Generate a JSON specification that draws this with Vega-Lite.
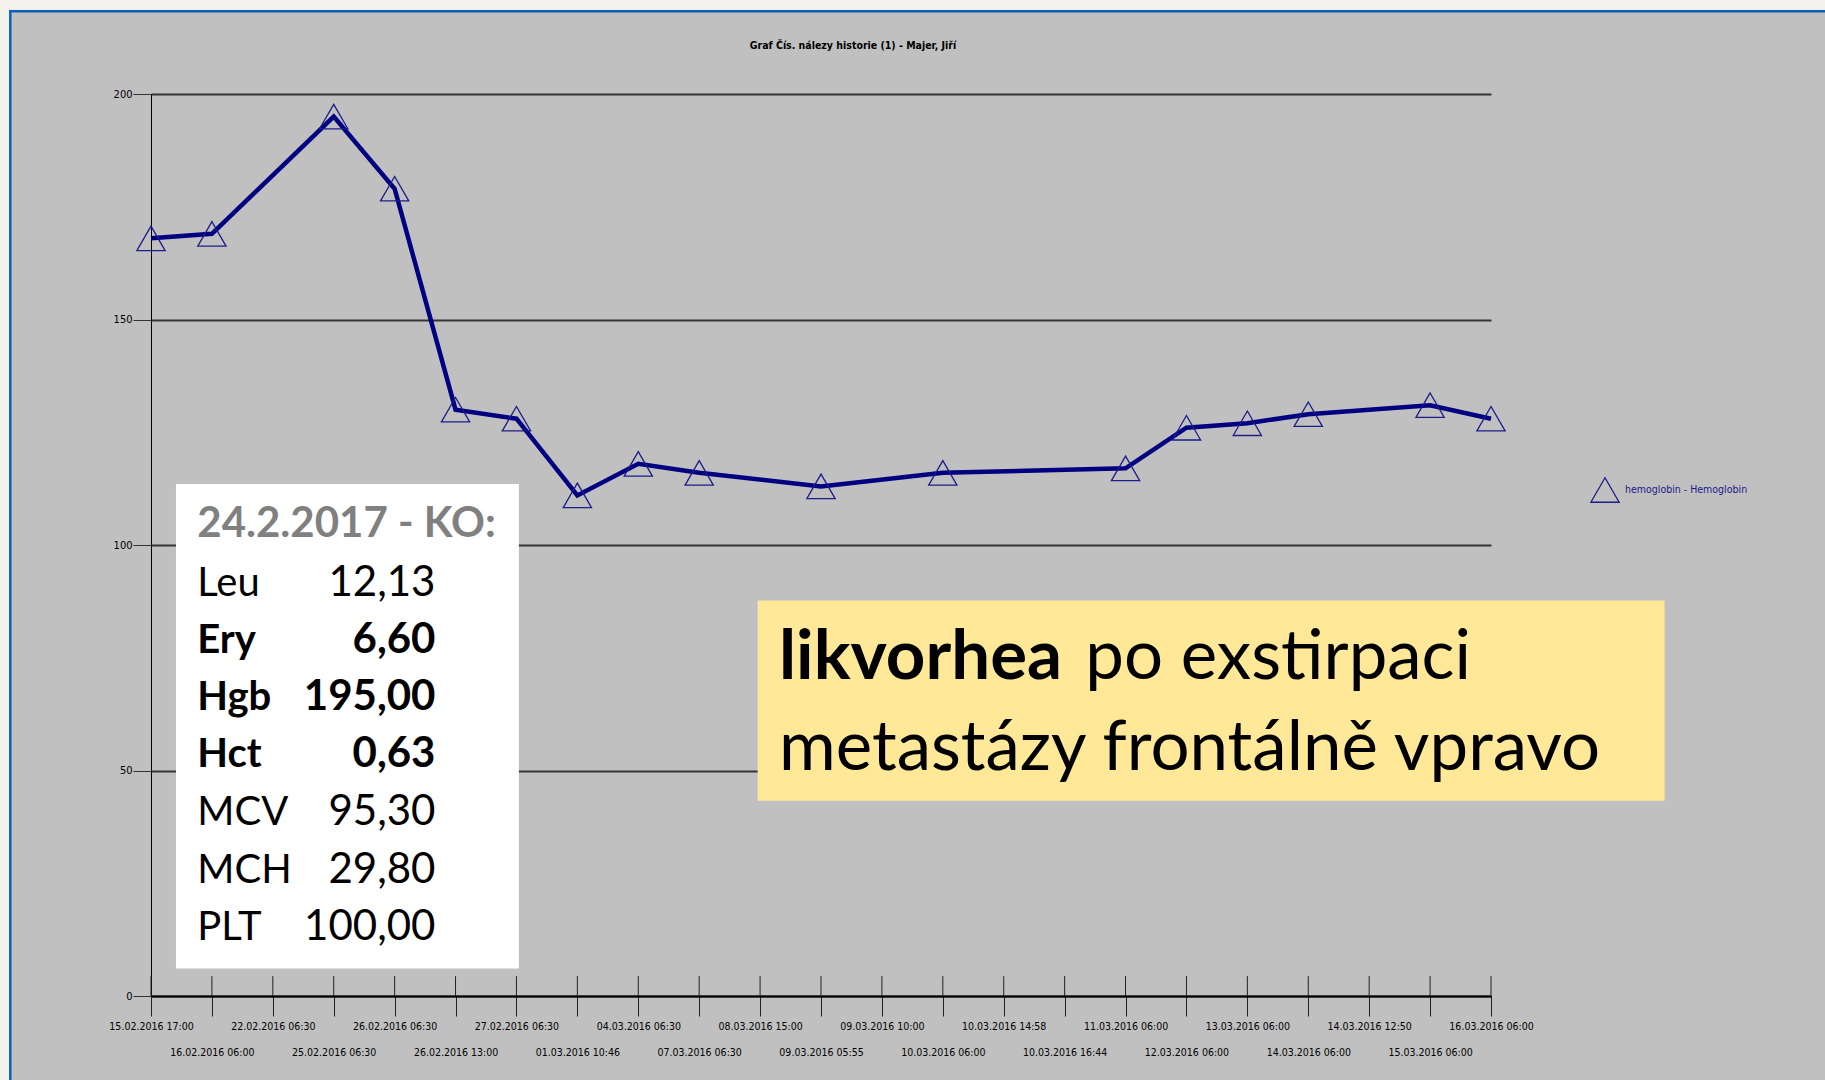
{
  "$schema": "https://vega.github.io/schema/vega-lite/v6.json",
  "width": 1340,
  "height": 902,
  "autosize": {"type": "none"},
  "padding": {"left": 151, "top": 94, "right": 334, "bottom": 84},
  "background": "#c0c0c0",
  "config": {"view": {"stroke": null}},
  "title": {
    "text": "Graf Čís. nálezy historie (1) - Majer,  Jiří",
    "font": "Liberation Sans Narrow, DejaVu Sans Condensed, Arial Narrow, sans-serif",
    "fontSize": 10.5,
    "fontWeight": "bold",
    "color": "#000000",
    "anchor": "middle",
    "baseline": "bottom",
    "dx": 32,
    "offset": -62
  },
  "resolve": {"scale": {"x": "independent", "y": "independent"}, "axis": {"x": "independent", "y": "independent"}},
  "layer": [
    {
      "data": {
        "values": [
          {"d": "15.02.2016 17:00", "hgb": 168},
          {"d": "16.02.2016 06:00", "hgb": 169},
          {"d": "25.02.2016 06:30", "hgb": 195},
          {"d": "26.02.2016 06:30", "hgb": 179},
          {"d": "26.02.2016 13:00", "hgb": 130},
          {"d": "27.02.2016 06:30", "hgb": 128},
          {"d": "01.03.2016 10:46", "hgb": 111},
          {"d": "04.03.2016 06:30", "hgb": 118},
          {"d": "07.03.2016 06:30", "hgb": 116},
          {"d": "09.03.2016 05:55", "hgb": 113},
          {"d": "10.03.2016 06:00", "hgb": 116},
          {"d": "11.03.2016 06:00", "hgb": 117},
          {"d": "12.03.2016 06:00", "hgb": 126},
          {"d": "13.03.2016 06:00", "hgb": 127},
          {"d": "14.03.2016 06:00", "hgb": 129},
          {"d": "15.03.2016 06:00", "hgb": 131},
          {"d": "16.03.2016 06:00", "hgb": 128}
        ]
      },
      "encoding": {
        "x": {
          "field": "d",
          "type": "ordinal",
          "scale": {
            "type": "point",
            "padding": 0,
            "domain": ["15.02.2016 17:00", "16.02.2016 06:00", "22.02.2016 06:30", "25.02.2016 06:30", "26.02.2016 06:30", "26.02.2016 13:00", "27.02.2016 06:30", "01.03.2016 10:46", "04.03.2016 06:30", "07.03.2016 06:30", "08.03.2016 15:00", "09.03.2016 05:55", "09.03.2016 10:00", "10.03.2016 06:00", "10.03.2016 14:58", "10.03.2016 16:44", "11.03.2016 06:00", "12.03.2016 06:00", "13.03.2016 06:00", "14.03.2016 06:00", "14.03.2016 12:50", "15.03.2016 06:00", "16.03.2016 06:00"]
          },
          "axis": {
            "title": null,
            "labelAngle": 0,
            "labelAlign": "center",
            "labelBaseline": "top",
            "labelFont": "Liberation Sans Narrow, DejaVu Sans Condensed, Arial Narrow, sans-serif",
            "labelFontSize": 10.5,
            "labelColor": "#000000",
            "labelOverlap": false,
            "labelBound": false,
            "labelFlush": false,
            "labelPadding": {
              "condition": {
                "test": "indexof(['16.02.2016 06:00','25.02.2016 06:30','26.02.2016 13:00','01.03.2016 10:46','07.03.2016 06:30','09.03.2016 05:55','10.03.2016 06:00','10.03.2016 16:44','12.03.2016 06:00','14.03.2016 06:00','15.03.2016 06:00'], datum.value) >= 0",
                "value": 31
              },
              "value": 5
            },
            "tickSize": 20,
            "tickColor": "#222222",
            "tickWidth": 1,
            "domainColor": "#000000",
            "domainWidth": 2,
            "grid": false
          }
        }
      },
      "layer": [
        {
          "data": {
            "values": [
              {"d": "15.02.2016 17:00"}, {"d": "16.02.2016 06:00"}, {"d": "22.02.2016 06:30"}, {"d": "25.02.2016 06:30"}, {"d": "26.02.2016 06:30"}, {"d": "26.02.2016 13:00"}, {"d": "27.02.2016 06:30"}, {"d": "01.03.2016 10:46"}, {"d": "04.03.2016 06:30"}, {"d": "07.03.2016 06:30"}, {"d": "08.03.2016 15:00"}, {"d": "09.03.2016 05:55"}, {"d": "09.03.2016 10:00"}, {"d": "10.03.2016 06:00"}, {"d": "10.03.2016 14:58"}, {"d": "10.03.2016 16:44"}, {"d": "11.03.2016 06:00"}, {"d": "12.03.2016 06:00"}, {"d": "13.03.2016 06:00"}, {"d": "14.03.2016 06:00"}, {"d": "14.03.2016 12:50"}, {"d": "15.03.2016 06:00"}, {"d": "16.03.2016 06:00"}
            ]
          },
          "mark": {"type": "rule", "color": "#222222", "strokeWidth": 1},
          "encoding": {
            "y": {"datum": 0, "type": "quantitative", "scale": {"domain": [0, 200], "nice": false, "zero": false}, "title": null},
            "y2": {"datum": 4.4}
          }
        },
        {
          "mark": {"type": "line", "color": "#000080", "strokeWidth": 4.5},
          "encoding": {
            "y": {
              "field": "hgb",
              "type": "quantitative",
              "scale": {"domain": [0, 200], "nice": false, "zero": false},
              "axis": {
                "title": null,
                "values": [0, 50, 100, 150, 200],
                "grid": true,
                "gridColor": "#353535",
                "gridWidth": 2,
                "domainColor": "#000000",
                "domainWidth": 1,
                "tickSize": 18,
                "tickColor": "#333333",
                "tickWidth": 1,
                "labelFont": "Liberation Sans Narrow, DejaVu Sans Condensed, Arial Narrow, sans-serif",
                "labelFontSize": 11,
                "labelColor": "#000000",
                "labelPadding": 1,
                "labelFlush": false
              }
            },
            "order": {"value": null}
          }
        },
        {
          "mark": {"type": "point", "filled": false, "stroke": "#1c1c8a", "strokeWidth": 1.3, "size": 800, "opacity": 1},
          "encoding": {
            "y": {"field": "hgb", "type": "quantitative", "scale": {"domain": [0, 200], "nice": false, "zero": false}, "title": null},
            "shape": {
              "datum": "hemoglobin - Hemoglobin",
              "type": "nominal",
              "scale": {"range": ["triangle-up"]},
              "legend": {
                "title": null,
                "orient": "none",
                "legendX": 1439,
                "legendY": 381,
                "padding": 0,
                "symbolSize": 800,
                "symbolStrokeColor": "#1c1c8a",
                "symbolFillColor": "transparent",
                "symbolStrokeWidth": 1.3,
                "labelFont": "Liberation Sans Narrow, DejaVu Sans Condensed, Arial Narrow, sans-serif",
                "labelFontSize": 10.5,
                "labelColor": "#1a1a8a",
                "labelOffset": 5
              }
            }
          }
        }
      ]
    },
    {
      "layer": [
        {
          "data": {"values": [
            {"x1": -2.48, "x2": 27.5, "y1": 221, "y2": 218.63},
            {"x1": -2.48, "x2": -2.33, "y1": 221, "y2": -19}
          ]},
          "mark": {"type": "rect", "color": "#f4f1ed"},
          "encoding": {
            "x": {"field": "x1", "type": "quantitative", "scale": {"domain": [0, 22], "nice": false, "zero": false}, "axis": null},
            "x2": {"field": "x2"},
            "y": {"field": "y1", "type": "quantitative", "scale": {"domain": [0, 200], "nice": false, "zero": false}, "axis": null},
            "y2": {"field": "y2"}
          }
        },
        {
          "data": {"values": [
            {"x1": -2.33, "x2": 27.5, "y1": 218.63, "y2": 218.07},
            {"x1": -2.33, "x2": -2.29, "y1": 218.63, "y2": -19}
          ]},
          "mark": {"type": "rect", "color": "#0b5fb8"},
          "encoding": {
            "x": {"field": "x1", "type": "quantitative", "scale": {"domain": [0, 22], "nice": false, "zero": false}, "axis": null},
            "x2": {"field": "x2"},
            "y": {"field": "y1", "type": "quantitative", "scale": {"domain": [0, 200], "nice": false, "zero": false}, "axis": null},
            "y2": {"field": "y2"}
          }
        },
        {
          "data": {"values": [{"x1": 0.41, "x2": 6.04, "y1": 113.5, "y2": 6.1}]},
          "mark": {"type": "rect", "color": "#ffffff"},
          "encoding": {
            "x": {"field": "x1", "type": "quantitative", "scale": {"domain": [0, 22], "nice": false, "zero": false}, "axis": null},
            "x2": {"field": "x2"},
            "y": {"field": "y1", "type": "quantitative", "scale": {"domain": [0, 200], "nice": false, "zero": false}, "axis": null},
            "y2": {"field": "y2"}
          }
        },
        {
          "data": {"values": [{"x1": 9.96, "x2": 24.85, "y1": 87.7, "y2": 43.3}]},
          "mark": {"type": "rect", "color": "#ffe998"},
          "encoding": {
            "x": {"field": "x1", "type": "quantitative", "scale": {"domain": [0, 22], "nice": false, "zero": false}, "axis": null},
            "x2": {"field": "x2"},
            "y": {"field": "y1", "type": "quantitative", "scale": {"domain": [0, 200], "nice": false, "zero": false}, "axis": null},
            "y2": {"field": "y2"}
          }
        },
        {
          "data": {"values": [{"t": "24.2.2017 - KO:", "x": 0.76, "y": 101.8}]},
          "mark": {"type": "text", "font": "Lato, sans-serif", "fontSize": 42, "fontWeight": "bold", "color": "#808080", "align": "left", "baseline": "alphabetic"},
          "encoding": {
            "x": {"field": "x", "type": "quantitative", "scale": {"domain": [0, 22], "nice": false, "zero": false}, "axis": null},
            "y": {"field": "y", "type": "quantitative", "scale": {"domain": [0, 200], "nice": false, "zero": false}, "axis": null},
            "text": {"field": "t"}
          }
        },
        {
          "data": {"values": [
            {"k": "Leu", "v": "12,13", "xl": 0.76, "xv": 4.67, "y": 88.7},
            {"k": "Ery", "v": "6,60", "xl": 0.76, "xv": 4.67, "y": 76.1},
            {"k": "Hgb", "v": "195,00", "xl": 0.76, "xv": 4.67, "y": 63.4},
            {"k": "Hct", "v": "0,63", "xl": 0.76, "xv": 4.67, "y": 50.8},
            {"k": "MCV", "v": "95,30", "xl": 0.76, "xv": 4.67, "y": 37.9},
            {"k": "MCH", "v": "29,80", "xl": 0.76, "xv": 4.67, "y": 25.1},
            {"k": "PLT", "v": "100,00", "xl": 0.76, "xv": 4.67, "y": 12.4}
          ]},
          "layer": [
            {
              "transform": [{"filter": "indexof(['Ery','Hgb','Hct'], datum.k) < 0"}],
              "mark": {"type": "text", "font": "Lato, sans-serif", "fontSize": 40, "color": "#000000", "align": "left", "baseline": "alphabetic"},
              "encoding": {
                "x": {"field": "xl", "type": "quantitative", "scale": {"domain": [0, 22], "nice": false, "zero": false}, "axis": null},
                "y": {"field": "y", "type": "quantitative", "scale": {"domain": [0, 200], "nice": false, "zero": false}, "axis": null},
                "text": {"field": "k"}
              }
            },
            {
              "transform": [{"filter": "indexof(['Ery','Hgb','Hct'], datum.k) >= 0"}],
              "mark": {"type": "text", "font": "Lato, sans-serif", "fontSize": 40, "fontWeight": "bold", "color": "#000000", "align": "left", "baseline": "alphabetic"},
              "encoding": {
                "x": {"field": "xl", "type": "quantitative", "scale": {"domain": [0, 22], "nice": false, "zero": false}, "axis": null},
                "y": {"field": "y", "type": "quantitative", "scale": {"domain": [0, 200], "nice": false, "zero": false}, "axis": null},
                "text": {"field": "k"}
              }
            },
            {
              "transform": [{"filter": "indexof(['Ery','Hgb','Hct'], datum.k) < 0"}],
              "mark": {"type": "text", "font": "Lato, sans-serif", "fontSize": 42, "color": "#000000", "align": "right", "baseline": "alphabetic"},
              "encoding": {
                "x": {"field": "xv", "type": "quantitative", "scale": {"domain": [0, 22], "nice": false, "zero": false}, "axis": null},
                "y": {"field": "y", "type": "quantitative", "scale": {"domain": [0, 200], "nice": false, "zero": false}, "axis": null},
                "text": {"field": "v"}
              }
            },
            {
              "transform": [{"filter": "indexof(['Ery','Hgb','Hct'], datum.k) >= 0"}],
              "mark": {"type": "text", "font": "Lato, sans-serif", "fontSize": 42, "fontWeight": "bold", "color": "#000000", "align": "right", "baseline": "alphabetic"},
              "encoding": {
                "x": {"field": "xv", "type": "quantitative", "scale": {"domain": [0, 22], "nice": false, "zero": false}, "axis": null},
                "y": {"field": "y", "type": "quantitative", "scale": {"domain": [0, 200], "nice": false, "zero": false}, "axis": null},
                "text": {"field": "v"}
              }
            }
          ]
        },
        {
          "data": {"values": [{"t": "likvorhea", "x": 10.31, "y": 70.3}]},
          "mark": {"type": "text", "font": "Lato, sans-serif", "fontSize": 69, "fontWeight": "bold", "color": "#000000", "align": "left", "baseline": "alphabetic"},
          "encoding": {
            "x": {"field": "x", "type": "quantitative", "scale": {"domain": [0, 22], "nice": false, "zero": false}, "axis": null},
            "y": {"field": "y", "type": "quantitative", "scale": {"domain": [0, 200], "nice": false, "zero": false}, "axis": null},
            "text": {"field": "t"}
          }
        },
        {
          "data": {"values": [
            {"t": "po exstirpaci", "x": 15.34, "y": 70.3},
            {"t": "metastázy frontálně vpravo", "x": 10.31, "y": 50.1}
          ]},
          "mark": {"type": "text", "font": "Lato, sans-serif", "fontSize": 69, "color": "#000000", "align": "left", "baseline": "alphabetic"},
          "encoding": {
            "x": {"field": "x", "type": "quantitative", "scale": {"domain": [0, 22], "nice": false, "zero": false}, "axis": null},
            "y": {"field": "y", "type": "quantitative", "scale": {"domain": [0, 200], "nice": false, "zero": false}, "axis": null},
            "text": {"field": "t"}
          }
        }
      ]
    }
  ]
}
